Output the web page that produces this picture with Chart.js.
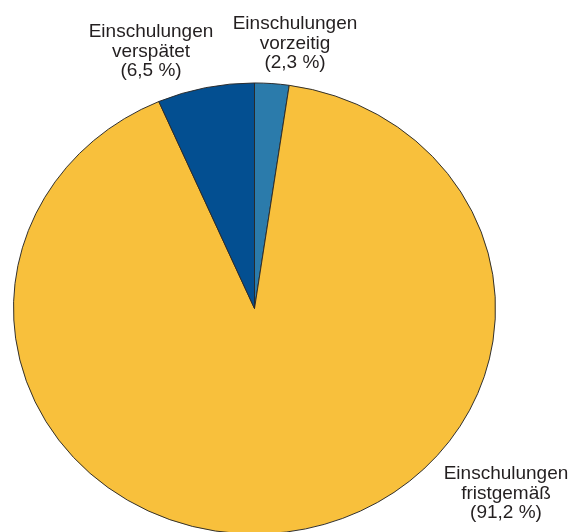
<!DOCTYPE html>
<html>
<head>
<meta charset="utf-8">
<script src="https://cdn.jsdelivr.net/npm/chart.js@4/dist/chart.umd.min.js"></script>
<style>
  html, body { margin: 0; padding: 0; background: #fff; overflow: hidden; }
  #wrap { width: 571px; height: 532px; overflow: hidden; }
</style>
</head>
<body>
<div id="wrap"><canvas id="einschulungChart" width="571" height="600"></canvas></div>
<script>
// Einschulungen nach Zeitpunkt, Anteile in %
var categories = [
    ['Einschulungen', 'vorzeitig'],
    ['Einschulungen', 'fristgemäß'],
    ['Einschulungen', 'verspätet']
];
var shares = [2.3, 91.2, 6.5];
var sliceColors = ['#2b7bab', '#f8c03c', '#034f91'];

// where the text of each label sits (center x, first baseline)
var labelPos = [
    { x: 295, y: 29 },
    { x: 506, y: 479 },
    { x: 151, y: 37 }
];
var squash = 226 / 241.5;   // the pie is drawn slightly flattened

function fmt(v) {
    return '(' + v.toFixed(1).replace('.', ',') + ' %)';
}

var ellipsePlugin = {
    id: 'ellipse',
    beforeDatasetsDraw: function(chart) {
        var ctx = chart.ctx;
        var arc = chart.getDatasetMeta(0).data[0];
        ctx.save();
        ctx.translate(0, arc.y);
        ctx.scale(1, squash);
        ctx.translate(0, -arc.y);
    },
    afterDatasetsDraw: function(chart) {
        chart.ctx.restore();
    }
};

var labelPlugin = {
    id: 'sliceLabels',
    afterDraw: function(chart) {
        var ctx = chart.ctx;
        ctx.save();
        ctx.font = '19px "Liberation Sans", Arial, sans-serif';
        ctx.fillStyle = '#231f20';
        ctx.textAlign = 'center';
        ctx.textBaseline = 'alphabetic';
        for (var i = 0; i < shares.length; i++) {
            var lines = categories[i].concat([fmt(shares[i])]);
            for (var j = 0; j < lines.length; j++) {
                ctx.fillText(lines[j], labelPos[i].x, labelPos[i].y + j * 19.5);
            }
        }
        ctx.restore();
    }
};

new Chart(document.getElementById('einschulungChart'), {
    type: 'pie',
    data: {
        labels: categories.map(function(c) { return c.join(' '); }),
        datasets: [{
            data: shares,
            backgroundColor: sliceColors,
            borderColor: '#2a2a2a',
            borderWidth: 1,
            offset: 0,
            hoverOffset: 0
        }]
    },
    options: {
        responsive: false,
        animation: false,
        layout: { padding: { left: 13, right: 75, top: 67, bottom: 50 } },
        plugins: {
            legend: { display: false },
            tooltip: { enabled: false }
        }
    },
    plugins: [ellipsePlugin, labelPlugin]
});
</script>
</body>
</html>
